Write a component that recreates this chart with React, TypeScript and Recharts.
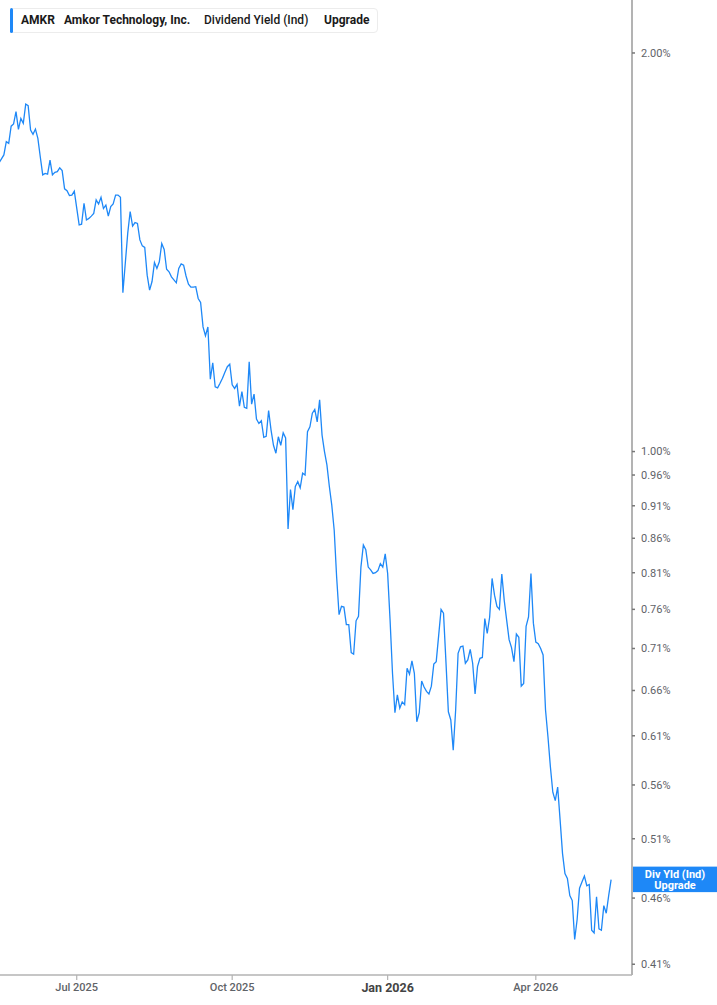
import React from 'react';
import { LineChart, Line, XAxis, YAxis, ReferenceLine } from 'recharts';

// Trading-day index (0 = 2025-05-14) of each traced vertex
const dayIndex = [
  0, 2, 3, 4, 5, 6, 7, 8, 9, 10, 11, 12, 13, 14, 15, 16, 17, 18, 19, 20,
  21, 22, 23, 24, 25, 26, 27, 28, 29, 30, 31, 32, 33, 34, 35, 36, 37, 38, 39, 40,
  41, 42, 43, 44, 45, 46, 47, 48, 49, 50, 51, 53, 54, 55, 56, 57, 58, 59, 60, 61,
  62, 63, 64, 65, 66, 67, 68, 69, 70, 71, 72, 73, 74, 75, 76, 77, 78, 79, 80, 81,
  82, 83, 84, 85, 86, 87, 88, 89, 90, 91, 92, 93, 94, 95, 96, 97, 98, 99, 100, 101,
  102, 103, 104, 105, 106, 107, 108, 109, 110, 111, 112, 113, 114, 115, 116, 117, 118, 119, 120, 121,
  122, 123, 124, 125, 126, 127, 128, 129, 130, 131, 132, 133, 134, 135, 136, 137, 138, 139, 140, 141,
  142, 143, 144, 145, 146, 147, 148, 149, 150, 151, 152, 153, 154, 155, 156, 157, 158, 159, 160, 161,
  162, 163, 164, 165, 166, 167, 168, 169, 170, 171, 172, 173, 174, 175, 176, 177, 178, 179, 180, 181,
  182, 183, 184, 185, 186, 187, 188, 189, 190, 191, 192, 193, 194, 195, 196, 197, 198, 199, 200, 201,
  202, 203, 204, 205, 206, 207, 208, 209, 210, 211, 212, 213, 214, 215, 216, 217, 218, 219, 220, 221,
  222, 223, 224, 225, 226, 227, 228, 229, 230, 231, 232, 233, 234, 235, 236, 237, 238, 239, 240, 241,
  242, 243, 244, 245, 246, 247, 248, 249, 250, 251, 252,
];

// Dividend yield (%) at each vertex
const yieldPct = [
  1.652, 1.675, 1.714, 1.709, 1.761, 1.768, 1.806, 1.751, 1.785, 1.770, 1.830, 1.825, 1.749, 1.736, 1.752, 1.724, 1.669, 1.618, 1.622, 1.620,
  1.660, 1.618, 1.625, 1.627, 1.638, 1.630, 1.579, 1.574, 1.561, 1.562, 1.573, 1.527, 1.483, 1.485, 1.540, 1.496, 1.500, 1.506, 1.513, 1.549,
  1.538, 1.556, 1.526, 1.535, 1.506, 1.531, 1.538, 1.562, 1.562, 1.556, 1.318, 1.462, 1.518, 1.480, 1.489, 1.487, 1.445, 1.430, 1.426, 1.359,
  1.324, 1.344, 1.389, 1.375, 1.391, 1.436, 1.421, 1.373, 1.367, 1.355, 1.348, 1.341, 1.375, 1.386, 1.383, 1.357, 1.338, 1.331, 1.331, 1.332,
  1.305, 1.296, 1.242, 1.223, 1.242, 1.134, 1.167, 1.119, 1.117, 1.126, 1.136, 1.148, 1.159, 1.164, 1.123, 1.116, 1.124, 1.082, 1.110, 1.080,
  1.078, 1.169, 1.086, 1.105, 1.058, 1.050, 1.055, 1.025, 1.027, 1.074, 1.038, 1.011, 0.997, 1.026, 1.011, 1.033, 1.024, 0.874, 0.936, 0.904,
  0.941, 0.949, 0.939, 0.963, 0.960, 1.035, 1.044, 1.069, 1.076, 1.053, 1.094, 1.029, 1.000, 0.977, 0.941, 0.911, 0.872, 0.804, 0.753, 0.764,
  0.763, 0.740, 0.740, 0.705, 0.703, 0.745, 0.751, 0.818, 0.850, 0.843, 0.818, 0.814, 0.809, 0.810, 0.813, 0.823, 0.818, 0.837, 0.809, 0.746,
  0.680, 0.635, 0.655, 0.640, 0.647, 0.644, 0.686, 0.679, 0.695, 0.680, 0.625, 0.635, 0.671, 0.664, 0.659, 0.656, 0.665, 0.691, 0.694, 0.726,
  0.760, 0.755, 0.694, 0.636, 0.627, 0.595, 0.638, 0.704, 0.712, 0.713, 0.692, 0.696, 0.709, 0.692, 0.656, 0.688, 0.698, 0.699, 0.748, 0.729,
  0.750, 0.802, 0.779, 0.764, 0.760, 0.808, 0.772, 0.746, 0.721, 0.711, 0.694, 0.728, 0.724, 0.665, 0.668, 0.738, 0.750, 0.809, 0.742, 0.718,
  0.716, 0.710, 0.702, 0.638, 0.609, 0.578, 0.553, 0.545, 0.558, 0.527, 0.497, 0.480, 0.476, 0.462, 0.458, 0.428, 0.443, 0.468, 0.473, 0.478,
  0.470, 0.471, 0.435, 0.433, 0.461, 0.436, 0.435, 0.454, 0.448, 0.462, 0.475,
];

const yTicks = [2.0, 1.0, 0.96, 0.91, 0.86, 0.81, 0.76, 0.71, 0.66, 0.61, 0.56, 0.51, 0.46, 0.41];
const xTickDates = ['2025-07-01', '2025-10-01', '2026-01-02', '2026-04-01'];
const xTickLabels = ['Jul 2025', 'Oct 2025', 'Jan 2026', 'Apr 2026'];
const holidays = [
  '2025-05-26', '2025-06-19', '2025-07-04', '2025-09-01', '2025-11-27', '2025-12-25',
  '2026-01-01', '2026-01-19', '2026-02-16', '2026-04-03',
];

// trading-day calendar
const tradingDays: string[] = [];
{
  const d = new Date(Date.UTC(2025, 4, 14));
  const end = new Date(Date.UTC(2026, 5, 1));
  while (d <= end) {
    const wd = d.getUTCDay();
    const s = d.toISOString().slice(0, 10);
    if (wd !== 0 && wd !== 6 && !holidays.includes(s)) tradingDays.push(s);
    d.setUTCDate(d.getUTCDate() + 1);
  }
}
const xTickIdx = xTickDates.map((s) => tradingDays.indexOf(s));

const data = dayIndex.map((i, k) => ({ i, date: tradingDays[i], v: yieldPct[k] }));
const lastValue = yieldPct[yieldPct.length - 1];

const BLUE = '#1e88f7';
const FONT = 'Roboto, "Noto Sans", sans-serif';

const XTick = (props: any) => {
  const { x, y, payload } = props;
  const k = xTickIdx.indexOf(payload.value);
  const label = xTickLabels[k] ?? '';
  const bold = label.startsWith('Jan');
  return (
    <text
      x={x}
      y={y}
      dy="0.71em"
      textAnchor="middle"
      fontFamily={FONT}
      fontSize={bold ? 12.5 : 11}
      fontWeight={bold ? 700 : 500}
      fill={bold ? '#444' : '#5f6368'}
    >
      {label}
    </text>
  );
};

const YTick = (props: any) => {
  const { x, y, payload } = props;
  return (
    <text x={x} y={y} dy="0.35em" textAnchor="start" fontFamily={FONT} fontSize={11} fill="#5f6368">
      {`${Number(payload.value).toFixed(2)}%`}
    </text>
  );
};

const LastLabel = (props: any) => {
  const vb = props.viewBox || {};
  const x = (vb.x ?? 0) + (vb.width ?? 0);
  const y = vb.y ?? 0;
  return (
    <g>
      <rect x={x} y={y - 13} width={85} height={25.5} fill={BLUE} />
      <text x={x + 43} y={y - 5} dy="0.35em" textAnchor="middle" fontFamily={FONT} fontSize={11} fontWeight={700} fill="#fff">
        Div Yld (Ind)
      </text>
      <text x={x + 43} y={y + 6} dy="0.35em" textAnchor="middle" fontFamily={FONT} fontSize={11} fontWeight={700} fill="#fff">
        Upgrade
      </text>
    </g>
  );
};

export default function App() {
  return (
    <div style={{ position: 'relative', width: 717, height: 1005, background: '#fff', fontFamily: FONT }}>
      <style>{'body{margin:0}'}</style>
      <LineChart width={717} height={1005} data={data} margin={{ top: 0, right: 0, bottom: 0, left: 0 }}>
        <XAxis
          dataKey="i"
          type="number"
          domain={[0.41, 260.6]}
          allowDataOverflow
          ticks={xTickIdx}
          interval={0}
          height={30}
          axisLine={{ stroke: '#b3b3b3', strokeWidth: 1.5 }}
          tickLine={{ stroke: '#b3b3b3', strokeWidth: 1.2 }}
          tickSize={5}
          tickMargin={3}
          tick={<XTick />}
        />
        <YAxis
          orientation="right"
          scale="log"
          domain={[0.4024, 2.193]}
          allowDataOverflow
          ticks={yTicks}
          interval={0}
          width={85}
          axisLine={{ stroke: '#b3b3b3', strokeWidth: 2 }}
          tickLine={{ stroke: '#777', strokeWidth: 1.5 }}
          tickSize={3}
          tickMargin={6}
          tick={<YTick />}
        />
        <ReferenceLine y={lastValue} stroke="none" label={<LastLabel />} ifOverflow="visible" />
        <Line
          type="linear"
          dataKey="v"
          stroke={BLUE}
          strokeWidth={1.3}
          dot={false}
          activeDot={false}
          isAnimationActive={false}
        />
      </LineChart>
      <div
        style={{
          position: 'absolute',
          left: 10,
          top: 8,
          width: 368,
          height: 25,
          boxSizing: 'border-box',
          border: '1px solid #ececec',
          borderRadius: 4,
          background: '#fff',
          fontSize: 12,
          color: '#1a1a1a',
          lineHeight: '23px',
        }}
      >
        <div style={{ position: 'absolute', left: -1, top: -1, width: 3, height: 25, background: BLUE, borderRadius: 2 }} />
        <span style={{ position: 'absolute', left: 10, fontWeight: 700 }}>AMKR</span>
        <span style={{ position: 'absolute', left: 53, fontWeight: 700 }}>Amkor Technology, Inc.</span>
        <span style={{ position: 'absolute', left: 193, fontWeight: 500 }}>Dividend Yield (Ind)</span>
        <span style={{ position: 'absolute', left: 313, fontWeight: 700 }}>Upgrade</span>
      </div>
    </div>
  );
}
